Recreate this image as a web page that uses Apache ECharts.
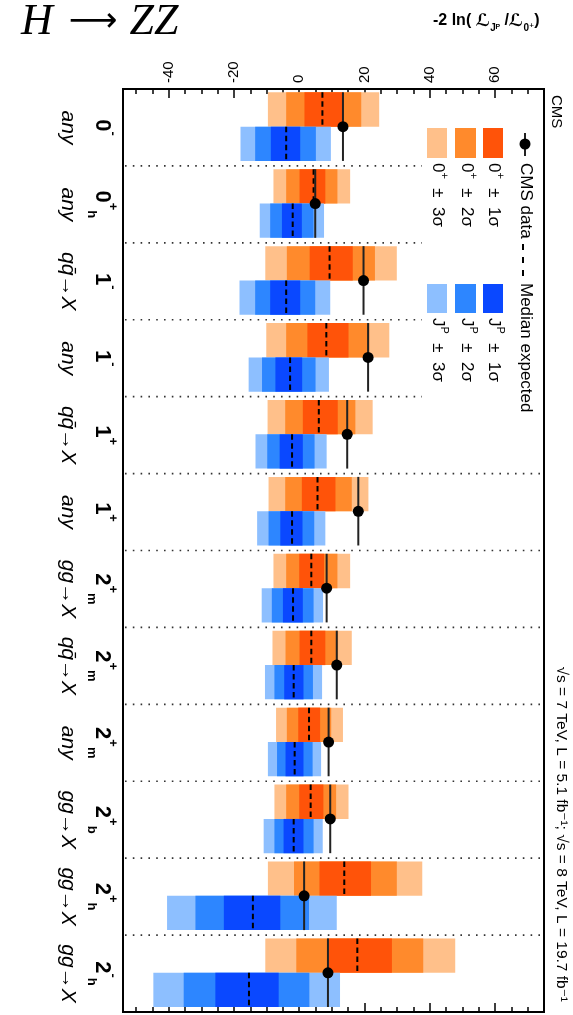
<!DOCTYPE html>
<html><head><meta charset="utf-8">
<script src="https://cdn.jsdelivr.net/npm/echarts@6/dist/echarts.min.js"></script>
<style>html,body{margin:0;padding:0;background:#fff}#c{width:573px;height:1015px}</style>
</head><body><div id="c"></div><script>
// ---- categories ----
const spinBase   = ['0','0','1','1','1','1','2','2','2','2','2','2'];
const spinSub    = ['','h','','','','','m','m','m','b','h','h'];
const spinSup    = ['-','+','-','-','+','+','+','+','+','+','+','-'];
const production = ['any','any','qq̄→X','any','qq̄→X','any','gg→X','qq̄→X','any','gg→X','gg→X','gg→X'];
// ---- observed ----
const observed   = [13.4, 4.9, 19.7, 21.1, 14.7, 18.1, 8.4, 11.5, 9.0, 9.5, 1.5, 8.8];
// ---- 0+ hypothesis (orange) ----
const smMedian = [7.1, 4.4, 9.3, 8.3, 6.0, 5.6, 3.7, 3.7, 3.0, 3.5, 13.8, 17.8];
const sm1Lo = [1.6, 0.1, 3.2, 2.5, 1.1, 0.8, 0.0, 0.1, -0.3, 0.0, 6.2, 9.1];
const sm1Hi = [13.4, 8.0, 16.4, 15.1, 11.8, 11.1, 7.6, 8.0, 6.4, 7.4, 22.0, 28.4];
const sm2Lo = [-4.0, -4.0, -3.8, -4.0, -4.3, -4.3, -4.0, -4.2, -3.8, -4.0, -1.6, -0.9];
const sm2Hi = [19.0, 11.7, 23.2, 21.5, 17.2, 16.1, 11.7, 11.9, 9.8, 11.3, 29.9, 38.0];
const sm3Lo = [-9.6, -7.9, -10.4, -10.1, -9.7, -9.4, -7.9, -8.2, -7.1, -7.6, -9.6, -10.4];
const sm3Hi = [24.5, 15.6, 29.9, 27.6, 22.5, 21.2, 15.6, 16.1, 13.4, 15.1, 37.7, 47.8];
// ---- J^P hypothesis (blue) ----
const altMedian = [-4.0, -2.0, -4.0, -2.8, -2.2, -2.2, -1.9, -1.7, -1.4, -1.7, -14.2, -15.4];
const alt1Lo = [-8.7, -5.3, -8.9, -7.3, -6.0, -5.8, -5.0, -4.6, -4.2, -4.8, -23.1, -25.7];
const alt1Hi = [0.3, 0.8, 0.3, 0.9, 1.1, 1.0, 1.1, 1.3, 1.3, 1.3, -5.8, -6.3];
const alt2Lo = [-13.5, -8.9, -13.5, -11.4, -9.8, -9.4, -8.4, -7.6, -6.8, -7.6, -31.8, -35.4];
const alt2Hi = [5.1, 4.4, 4.9, 5.0, 4.7, 4.6, 4.4, 4.2, 4.1, 4.4, 3.0, 3.1];
const alt3Lo = [-18.0, -12.1, -18.3, -15.5, -13.4, -12.9, -11.5, -10.5, -9.6, -10.9, -40.5, -44.7];
const alt3Hi = [9.7, 7.6, 9.5, 9.1, 8.4, 8.0, 7.3, 7.0, 6.7, 7.2, 11.5, 12.5];
// ---- axis ----
const tickLabels = ['-40','-20','0','20','40','60'];
const axisMin = -54, axisMax = 75;

const ORANGE = ['#ff5309', '#ff8a2c', '#ffc08a'];
const BLUE   = ['#0a48ff', '#2d86ff', '#8dbfff'];
const FONT = "'Liberation Sans', 'DejaVu Sans', sans-serif";

const categoryNames = spinBase.map((b, i) => b + spinSub[i] + spinSup[i] + ' ' + production[i]);
const rows = spinBase.map((_, i) => [observed[i], i,
  smMedian[i], sm1Lo[i], sm1Hi[i], sm2Lo[i], sm2Hi[i], sm3Lo[i], sm3Hi[i],
  altMedian[i], alt1Lo[i], alt1Hi[i], alt2Lo[i], alt2Hi[i], alt3Lo[i], alt3Hi[i]]);

const LEGEND_CLIP_X = 422;

function renderItem(params, api) {
  const i = api.value(1);
  const cs = params.coordSys;
  const c = api.coord([0, i]);
  const bw = api.size([0, 1])[1];
  const top = c[1] - bw / 2;
  const yO0 = top + 0.043 * bw, yMid = top + 0.49 * bw, yB1 = top + 0.935 * bw;
  const ch = [];
  const X = v => api.coord([v, i])[0];
  function rect(lo, hi, y0, y1, color) {
    const x0 = X(lo), x1 = X(hi);
    ch.push({type: 'rect', shape: {x: x0, y: y0, width: x1 - x0, height: y1 - y0}, style: {fill: color}});
  }
  rect(api.value(7), api.value(8), yO0, yMid, ORANGE[2]);
  rect(api.value(5), api.value(6), yO0, yMid, ORANGE[1]);
  rect(api.value(3), api.value(4), yO0, yMid, ORANGE[0]);
  rect(api.value(14), api.value(15), yMid, yB1, BLUE[2]);
  rect(api.value(12), api.value(13), yMid, yB1, BLUE[1]);
  rect(api.value(10), api.value(11), yMid, yB1, BLUE[0]);
  const dash = {stroke: '#000', lineWidth: 2, lineDash: [5.5, 3.5]};
  const xm1 = X(api.value(2));
  ch.push({type: 'line', shape: {x1: xm1, y1: yO0, x2: xm1, y2: yMid}, style: dash});
  const xm2 = X(api.value(9));
  ch.push({type: 'line', shape: {x1: xm2, y1: yMid, x2: xm2, y2: yB1}, style: dash});
  const xo = X(api.value(0));
  ch.push({type: 'line', shape: {x1: xo, y1: yO0, x2: xo, y2: yB1}, style: {stroke: '#222', lineWidth: 2}});
  ch.push({type: 'circle', shape: {cx: xo, cy: yMid, r: 5.5}, style: {fill: '#000'}});
  if (i > 0) {
    const xEnd = i <= 4 ? LEGEND_CLIP_X : cs.x + cs.width - 2;
    ch.push({type: 'line', shape: {x1: cs.x + 2, y1: top, x2: xEnd, y2: top},
      style: {stroke: '#333', lineWidth: 1.6, lineDash: [1.6, 6.2]}});
  }
  return {type: 'group', children: ch};
}

const legRich = {
  n: {font: '17px ' + FONT, fill: '#000', lineHeight: 24, verticalAlign: 'middle'},
  p: {font: '11px ' + FONT, fill: '#000', lineHeight: 17, verticalAlign: 'top'}
};
function rotText(x, y, text, extra) {
  return {
    type: 'text', x: x, y: y, rotation: -Math.PI / 2,
    style: Object.assign({text: text, fill: '#000', font: '17px ' + FONT, rich: legRich,
      align: 'left', verticalAlign: 'middle', textAlign: 'left', textVerticalAlign: 'middle'}, extra || {})
  };
}

const legendSwatchX = [[483, 503], [455, 476], [427, 447]];
const sigmaTxt = ['1σ', '2σ', '3σ'];
const graphics = [];
graphics.push({type: 'line', shape: {x1: 525, y1: 133, x2: 525, y2: 156}, style: {stroke: '#222', lineWidth: 2}});
graphics.push({type: 'circle', shape: {cx: 525, cy: 144, r: 5.5}, style: {fill: '#000'}});
graphics.push(rotText(526, 163, '{n|CMS data}'));
sigmaTxt.forEach((s, k) => {
  const [a, b] = legendSwatchX[k];
  graphics.push({type: 'rect', shape: {x: a, y: 128, width: b - a, height: 30}, style: {fill: ORANGE[k]}});
  graphics.push(rotText((a + b) / 2 + 1, 163, '{n|0}{p|+}{n|  ±  ' + s + '}'));
});
graphics.push({type: 'line', shape: {x1: 523, y1: 244, x2: 523, y2: 280}, style: {stroke: '#000', lineWidth: 2, lineDash: [6, 7]}});
graphics.push(rotText(526, 283, '{n|Median expected}'));
sigmaTxt.forEach((s, k) => {
  const [a, b] = legendSwatchX[k];
  graphics.push({type: 'rect', shape: {x: a, y: 284, width: b - a, height: 29}, style: {fill: BLUE[k]}});
  graphics.push(rotText((a + b) / 2 + 1, 318, '{n|J}{p|P}{n|  ±  ' + s + '}'));
});
graphics.push(rotText(556, 95, 'CMS', {font: '15px ' + FONT, rich: null}));
graphics.push(rotText(561, 1002, '√s = 7 TeV, L = 5.1 fb⁻¹; √s = 8 TeV, L = 19.7 fb⁻¹',
  {font: '15.5px ' + FONT, rich: null, align: 'right', textAlign: 'right'}));
graphics.push({type: 'text', x: 433, y: 21, style: {
  text: '{t|-2 ln( }{L|ℒ}{s|Jᴾ}{t| /}{L|ℒ}{s|0⁺}{t|)}',
  align: 'left', verticalAlign: 'middle', textAlign: 'left', textVerticalAlign: 'middle',
  rich: {
    t: {font: 'bold 16px ' + FONT, lineHeight: 24, verticalAlign: 'middle', fill: '#000'},
    L: {font: 'bold 17px ' + FONT, lineHeight: 24, verticalAlign: 'middle', fill: '#000'},
    s: {font: 'bold 10px ' + FONT, lineHeight: 12, verticalAlign: 'bottom', fill: '#000'}
  }}});
graphics.push({type: 'text', x: 21, y: 22, style: {
  text: '{i|H}{a|⟶}{i|ZZ}',
  align: 'left', verticalAlign: 'middle', textAlign: 'left', textVerticalAlign: 'middle',
  rich: {
    i: {font: 'italic 44px "Liberation Serif", "DejaVu Serif", serif', fill: '#000', lineHeight: 46},
    a: {font: '34px "DejaVu Sans", serif', fill: '#000', lineHeight: 46, padding: [0, 12, 0, 16]}
  }}});

const chart = echarts.init(document.getElementById('c'), null, {renderer: 'canvas'});
const tickCommon = {show: true, inside: true, lineStyle: {color: '#000', width: 1.5}};
chart.setOption({
  animation: false,
  backgroundColor: '#fff',
  grid: {left: 123, right: 29, top: 89, bottom: 3, show: true, borderColor: '#000', borderWidth: 2, backgroundColor: 'transparent'},
  xAxis: [
    {type: 'value', position: 'top', min: axisMin, max: axisMax, splitNumber: 6,
      axisLine: {show: false}, splitLine: {show: false},
      axisTick: Object.assign({length: 9}, tickCommon),
      axisLabel: {rotate: -90, margin: 6, fontSize: 15, fontFamily: FONT, color: '#000',
        formatter: v => tickLabels.includes(String(v)) ? String(v) : ''}},
    {type: 'value', position: 'top', min: axisMin, max: axisMax, splitNumber: 26,
      axisLine: {show: false}, splitLine: {show: false},
      axisTick: Object.assign({length: 5}, tickCommon), axisLabel: {show: false}},
    {type: 'value', position: 'bottom', min: axisMin, max: axisMax, splitNumber: 6,
      axisLine: {show: false}, splitLine: {show: false},
      axisTick: Object.assign({length: 9}, tickCommon), axisLabel: {show: false}},
    {type: 'value', position: 'bottom', min: axisMin, max: axisMax, splitNumber: 26,
      axisLine: {show: false}, splitLine: {show: false},
      axisTick: Object.assign({length: 5}, tickCommon), axisLabel: {show: false}}
  ],
  yAxis: {type: 'category', inverse: true, data: categoryNames,
    axisLine: {show: false}, axisTick: {show: false}, splitLine: {show: false},
    axisLabel: {interval: 0, rotate: -90, margin: 4,
      formatter: (v, idx) => {
        let l1 = '{sp|' + spinBase[idx] + '}{sup|' + spinSup[idx] + '}';
        if (spinSub[idx]) l1 += '{sub|' + spinSub[idx] + '}';
        return l1 + '\n{pr|' + production[idx] + '}';
      },
      rich: {
        sp: {fontFamily: FONT, fontWeight: 'bold', fontSize: 22, lineHeight: 34, color: '#000'},
        sup: {fontFamily: FONT, fontWeight: 'bold', fontSize: 13, lineHeight: 22, verticalAlign: 'top', color: '#000'},
        sub: {fontFamily: FONT, fontWeight: 'bold', fontSize: 13, lineHeight: 16, verticalAlign: 'bottom', color: '#000'},
        pr: {fontFamily: FONT, fontStyle: 'italic', fontSize: 21, lineHeight: 34, color: '#000'}
      }}},
  graphic: {elements: graphics},
  series: [{type: 'custom', xAxisIndex: 0, yAxisIndex: 0, data: rows,
    encode: {x: 0, y: 1}, renderItem: renderItem, clip: false, silent: true}]
});
</script></body></html>
